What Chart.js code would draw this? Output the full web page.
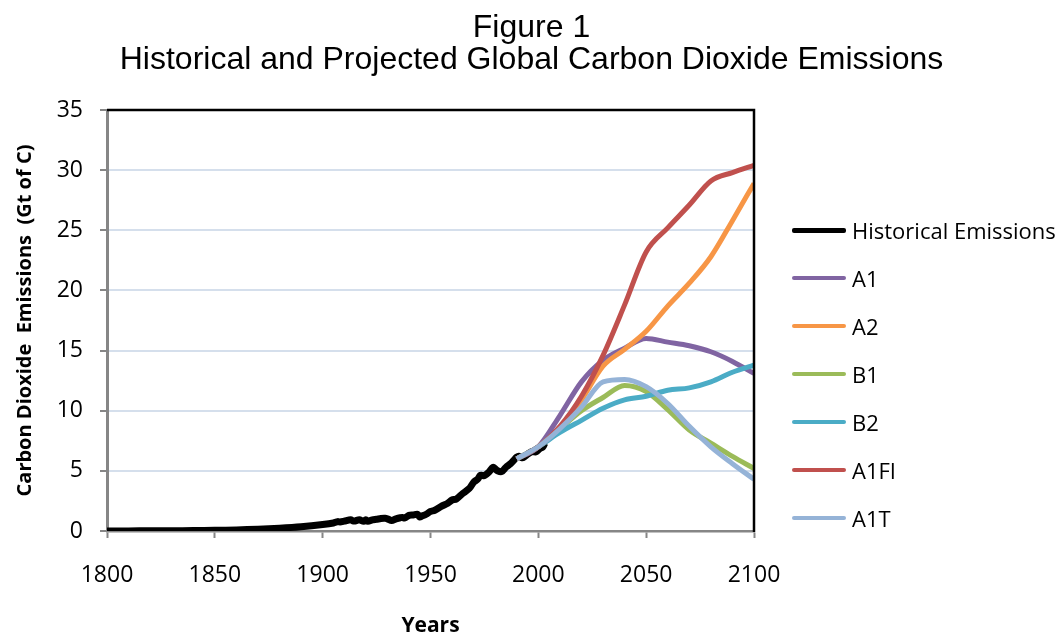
<!DOCTYPE html>
<html>
<head>
<meta charset="utf-8">
<script src="https://cdn.jsdelivr.net/npm/chart.js@4.4.1/dist/chart.umd.min.js"></script>
<style>
    body { margin: 0; background: #fff; }
    #wrap { position: relative; width: 1063px; height: 637px; }
    #chart-title {
        position: absolute; left: 0; top: 10px; width: 1063px;
        text-align: center; font-family: "Liberation Sans", Arial, sans-serif;
        font-size: 32px; line-height: 32px; color: #000;
    }
    #legend { position: absolute; left: 792px; top: 0; }
    .leg-item { position: absolute; left: 0; width: 270px; height: 30px; }
    .leg-line { position: absolute; left: 0; width: 54px; }
    .leg-label {
        position: absolute; left: 60px; top: 0; line-height: 30px;
        font-family: "Open Sans", Lato, sans-serif; font-size: 22px; color: #000; white-space: nowrap;
    }
</style>
</head>
<body>
<div id="wrap">
    <canvas id="co2Chart" width="1063" height="637"></canvas>
    <div id="chart-title">Figure 1<br>Historical and Projected Global Carbon Dioxide Emissions</div>
    <div id="legend"></div>
</div>
<script>
// --- DATA ---
const histYears = [1800, 1810, 1820, 1830, 1840, 1850, 1860, 1870, 1880, 1890, 1900, 1905, 1907, 1908,
    1910, 1913, 1914, 1915, 1917, 1919, 1920, 1921, 1923, 1925, 1927, 1929, 1930, 1932, 1934, 1936, 1937,
    1938, 1940, 1942, 1944, 1945, 1946, 1948, 1950, 1952, 1955, 1958, 1960, 1962, 1965, 1968, 1970, 1972,
    1973, 1974, 1975, 1977, 1979, 1980, 1981, 1983, 1985, 1987, 1989, 1990, 1991, 1992, 1993, 1995, 1997,
    1998, 1999, 2000, 2001, 2002, 2003];
const histValues = [0.008, 0.010, 0.014, 0.024, 0.033, 0.054, 0.091, 0.147, 0.236, 0.356, 0.534, 0.663, 0.783, 0.750,
    0.819, 0.943, 0.850, 0.836, 0.934, 0.806, 0.932, 0.803, 0.925, 0.975, 1.040, 1.053, 1.013, 0.881, 1.006, 1.103, 1.131,
    1.081, 1.299, 1.327, 1.385, 1.160, 1.238, 1.392, 1.630, 1.725, 2.043, 2.314, 2.577, 2.664, 3.130, 3.540, 4.053, 4.334,
    4.615, 4.623, 4.596, 4.883, 5.298, 5.166, 5.012, 4.944, 5.300, 5.578, 5.954, 6.150, 6.223, 6.115, 6.093, 6.381, 6.609,
    6.597, 6.580, 6.735, 6.894, 6.959, 7.300];

const scenYears = [1990, 2000, 2010, 2020, 2030, 2040, 2050, 2060, 2070, 2080, 2090, 2100];
const a1Values   = [6.0, 7.0, 9.6, 12.4, 14.2, 15.2, 16.0, 15.7, 15.4, 14.9, 14.1, 13.1];
const a2Values   = [6.0, 7.0, 8.5, 10.9, 13.7, 15.1, 16.6, 18.7, 20.6, 22.8, 25.8, 28.9];
const b1Values   = [6.0, 7.0, 8.5, 10.0, 11.1, 12.1, 11.6, 10.1, 8.4, 7.3, 6.2, 5.2];
const b2Values   = [6.0, 7.0, 8.2, 9.2, 10.2, 10.9, 11.2, 11.7, 11.9, 12.4, 13.2, 13.8];
const a1fiValues = [6.0, 7.0, 8.7, 11.2, 14.6, 18.8, 23.2, 25.2, 27.1, 29.1, 29.8, 30.4];
const a1tValues  = [6.0, 7.0, 8.5, 10.3, 12.4, 12.6, 12.0, 10.6, 8.7, 7.0, 5.6, 4.3];

const xTicks = [1800, 1850, 1900, 1950, 2000, 2050, 2100];
const yTicks = [0, 5, 10, 15, 20, 25, 30, 35];

const seriesNames  = ["Historical Emissions", "A1", "A2", "B1", "B2", "A1FI", "A1T"];
const seriesColors = ["#000000", "#8064a2", "#f79646", "#9bbb59", "#4bacc6", "#c0504d", "#95b3d7"];

// --- BUILD DATASETS ---
const toPoints = (xs, ys) => xs.map((x, i) => ({ x: x, y: ys[i] }));
const scenValues = [a1Values, a2Values, b1Values, b2Values, a1fiValues, a1tValues];

const datasets = [{
    label: seriesNames[0],
    data: toPoints(histYears, histValues),
    borderColor: seriesColors[0],
    borderWidth: 7,
    tension: 0.3,
    order: 6
}];
scenValues.forEach((vals, i) => {
    datasets.push({
        label: seriesNames[i + 1],
        data: toPoints(scenYears, vals),
        borderColor: seriesColors[i + 1],
        borderWidth: 5,
        cubicInterpolationMode: 'monotone',
        order: 5 - i
    });
});

// black frame on top and right of the plot
const frameLines = {
    id: 'frameLines',
    afterDatasetsDraw(chart) {
        const { ctx, chartArea: a } = chart;
        ctx.save();
        ctx.strokeStyle = '#000';
        ctx.lineWidth = 2.5;
        ctx.beginPath();
        ctx.moveTo(a.left, a.top);
        ctx.lineTo(a.right, a.top);
        ctx.lineTo(a.right, a.bottom + 1);
        ctx.stroke();
        ctx.restore();
    }
};

const tickFont = { family: 'Open Sans', size: 23 };

new Chart(document.getElementById('co2Chart').getContext('2d'), {
    type: 'line',
    data: { datasets: datasets },
    options: {
        responsive: false,
        animation: false,
        events: [],
        elements: { point: { radius: 0 } },
        layout: { padding: { top: 110, right: 309, left: 0, bottom: 0 } },
        scales: {
            x: {
                type: 'linear',
                min: 1800, max: 2100,
                afterFit: s => { s.height = 106; },
                afterBuildTicks: s => { s.ticks = xTicks.map(v => ({ value: v })); },
                grid: { drawOnChartArea: false, tickColor: '#868686', tickLength: 7, tickWidth: 2 },
                border: { color: '#868686', width: 2.5 },
                ticks: { color: '#000', padding: 24, font: tickFont, callback: v => String(v) },
                title: {
                    display: true, text: 'Years', color: '#000',
                    font: { family: 'Open Sans', size: 21, weight: 'bold', lineHeight: 1.0 },
                    padding: { top: 0, bottom: 0 }
                }
            },
            y: {
                min: 0, max: 35,
                afterFit: s => { s.width = 107; },
                afterBuildTicks: s => { s.ticks = yTicks.map(v => ({ value: v })); },
                grid: { color: '#d5dfec', lineWidth: 2, tickColor: '#868686', tickLength: 7, tickWidth: 2 },
                border: { color: '#868686', width: 3 },
                ticks: { color: '#000', padding: 17, font: tickFont },
                title: {
                    display: true, text: 'Carbon Dioxide  Emissions  (Gt of C)', color: '#000',
                    font: { family: 'Open Sans', size: 20, weight: 'bold', lineHeight: 1.2 },
                    padding: { top: 13, bottom: 0 }
                }
            }
        },
        plugins: {
            legend: { display: false },
            title: { display: false },
            tooltip: { enabled: false }
        }
    },
    plugins: [frameLines]
});

// --- LEGEND ---
const legend = document.getElementById('legend');
const legendTop = 230;
const legendGap = 48;
seriesNames.forEach((name, i) => {
    const item = document.createElement('div');
    item.className = 'leg-item';
    item.style.top = (legendTop + i * legendGap - 15) + 'px';
    const thick = i === 0 ? 5 : 4;
    item.innerHTML = `<div class="leg-line" style="top:${15 - thick / 2}px; height:${thick}px; background:${seriesColors[i]}; border-radius:2px;"></div>
        <div class="leg-label">${name}</div>`;
    legend.appendChild(item);
});
</script>
</body>
</html>
